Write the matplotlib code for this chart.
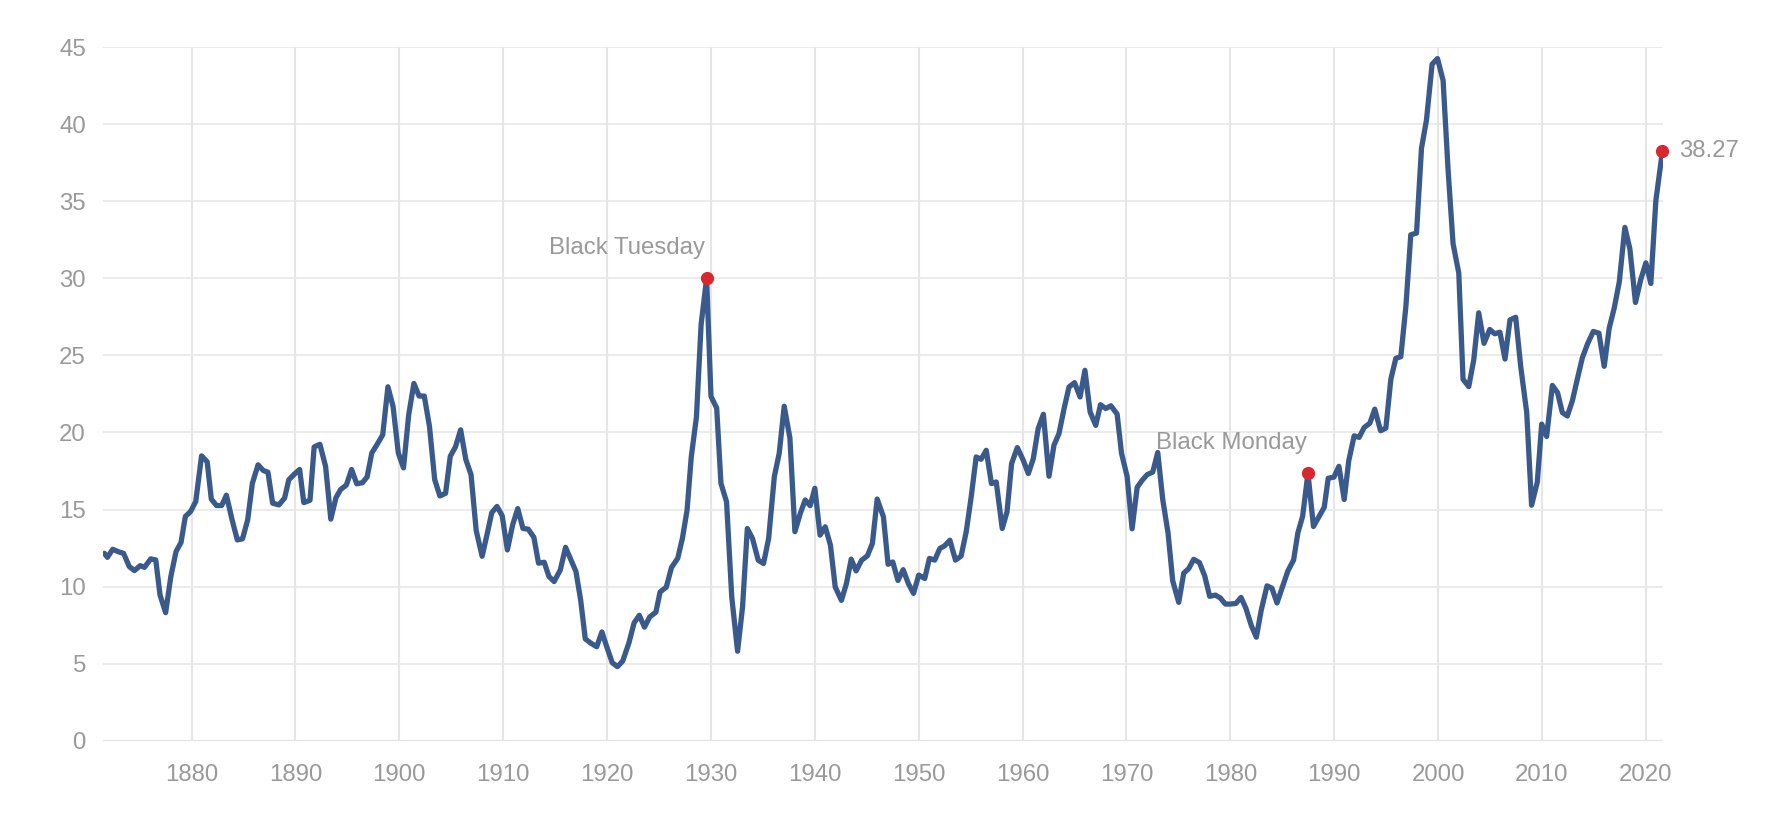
import matplotlib
matplotlib.use("Agg")
import matplotlib.pyplot as plt

years = [
    1871.6, 1871.9, 1872.4, 1873.0, 1873.45, 1874.0, 1874.5, 1875.05, 1875.46, 1876.07,
    1876.55, 1876.96, 1877.5, 1878.0, 1878.5, 1878.98, 1879.4, 1879.9, 1880.4, 1880.96,
    1881.5, 1881.9, 1882.4, 1882.9, 1883.35, 1883.9, 1884.4, 1884.9, 1885.4, 1885.85,
    1886.4, 1886.9, 1887.35, 1887.8, 1888.4, 1888.95, 1889.36, 1889.9, 1890.4,
    1890.8, 1891.4, 1891.8, 1892.35, 1892.9, 1893.4, 1893.9, 1894.35, 1894.9, 1895.4,
    1895.9, 1896.45, 1896.9, 1897.35, 1897.9, 1898.4, 1898.9, 1899.4, 1899.9, 1900.4,
    1900.9, 1901.4, 1901.9, 1902.4, 1902.9, 1903.4, 1903.9, 1904.45, 1904.9, 1905.4,
    1905.9, 1906.4, 1906.9, 1907.4, 1907.97, 1908.45, 1908.9, 1909.4, 1909.9,
    1910.4, 1910.9, 1911.4, 1911.9, 1912.4, 1912.95, 1913.4, 1913.95, 1914.4, 1914.9,
    1915.5, 1916.0, 1916.5, 1917.0, 1917.45, 1917.9, 1918.4, 1919.0, 1919.5, 1920.0,
    1920.5, 1921.0, 1921.5, 1922.1, 1922.6, 1923.1, 1923.6, 1924.1, 1924.7, 1925.1,
    1925.7, 1926.2, 1926.8, 1927.25, 1927.7, 1928.1, 1928.6, 1929.05, 1929.58,
    1930.0, 1930.55, 1930.96, 1931.5, 1932.0, 1932.56, 1933.04, 1933.5, 1934.0, 1934.55,
    1935.06, 1935.55, 1936.1, 1936.57, 1937.05, 1937.6, 1938.08, 1938.6, 1939.07, 1939.55,
    1940.0, 1940.5, 1941.0, 1941.5, 1941.96, 1942.56, 1943.04, 1943.5, 1943.97, 1944.5,
    1945.06, 1945.54, 1946.0, 1946.6, 1947.05, 1947.5, 1948.0, 1948.5,
    1949.0, 1949.5, 1950.0, 1950.58, 1951.03, 1951.54, 1952.03, 1952.5, 1953.0, 1953.54,
    1954.08, 1954.57, 1955.05, 1955.53, 1956.0, 1956.5, 1957.0, 1957.46, 1958.04, 1958.5,
    1958.94, 1959.49, 1960.06, 1960.55, 1961.03, 1961.5, 1962.0, 1962.54, 1963.02, 1963.5,
    1963.99, 1964.47, 1965.0, 1965.53, 1966.0, 1966.5, 1967.04, 1967.5, 1968.0,
    1968.5, 1969.1, 1969.52, 1970.06, 1970.54, 1971.03, 1971.5, 1971.99, 1972.53, 1973.01,
    1973.49, 1974.0, 1974.45, 1975.03, 1975.51, 1975.99, 1976.47, 1977.02, 1977.53, 1978.01,
    1978.56, 1979.04, 1979.52, 1980.0, 1980.54, 1981.03, 1981.5, 1982.02, 1982.5, 1982.98,
    1983.53, 1984.0, 1984.49, 1985.03, 1985.54, 1986.09, 1986.5, 1986.96, 1987.47,
    1988.0, 1988.5, 1989.04, 1989.42, 1989.97, 1990.45, 1990.96, 1991.4, 1991.92, 1992.4,
    1992.88, 1993.43, 1993.9, 1994.46, 1994.97, 1995.45, 1995.93, 1996.41, 1996.9, 1997.37,
    1997.92, 1998.4, 1998.88, 1999.42, 1999.94, 2000.48, 2000.96, 2001.44, 2001.99, 2002.4,
    2002.95, 2003.43, 2003.91, 2004.42, 2004.97, 2005.45, 2005.95, 2006.44, 2006.92, 2007.47,
    2007.95, 2008.53, 2009.0, 2009.55, 2009.97, 2010.45, 2011.0, 2011.5, 2011.96, 2012.44,
    2012.92, 2013.43, 2013.88, 2014.39, 2014.94, 2015.48, 2015.99, 2016.47, 2016.95, 2017.44,
    2017.98, 2018.46, 2019.0, 2019.49, 2020.0, 2020.48, 2020.96, 2021.6,
]

cape = [
    12.16, 11.9, 12.42, 12.25, 12.16, 11.3, 11.04, 11.36, 11.25, 11.8,
    11.73, 9.46, 8.31, 10.65, 12.27, 12.86, 14.55, 14.87, 15.52, 18.48,
    18.1, 15.67, 15.26, 15.26, 15.93, 14.33, 13.03, 13.1, 14.33, 16.7,
    17.9, 17.53, 17.42, 15.41, 15.3, 15.74, 16.93, 17.3, 17.6,
    15.45, 15.6, 19.06, 19.23, 17.8, 14.38, 15.77, 16.3, 16.59, 17.6,
    16.67, 16.74, 17.12, 18.67, 19.27, 19.85, 22.96, 21.67, 18.67, 17.7,
    21.14, 23.18, 22.36, 22.36, 20.39, 16.95, 15.88, 16.05, 18.45, 19.06,
    20.17, 18.24, 17.27, 13.63, 11.97, 13.41, 14.8, 15.2, 14.6,
    12.38, 13.99, 15.06, 13.77, 13.73, 13.2, 11.52, 11.58, 10.66, 10.33,
    11.09, 12.55, 11.77, 10.98, 9.15, 6.61, 6.35, 6.1, 7.06, 6.03,
    5.06, 4.81, 5.17, 6.35, 7.65, 8.14, 7.37, 8.03, 8.35, 9.65,
    9.97, 11.24, 11.84, 13.13, 14.96, 18.4, 21.0, 27.0, 30.0,
    22.34, 21.58, 16.7, 15.5, 9.33, 5.81, 8.68, 13.77, 13.12, 11.71,
    11.5, 13.12, 17.14, 18.65, 21.7, 19.63, 13.56, 14.75, 15.62, 15.25,
    16.38, 13.34, 13.88, 12.69, 9.98, 9.11, 10.2, 11.78, 11.02, 11.71,
    12.0, 12.8, 15.68, 14.53, 11.45, 11.6, 10.4, 11.1,
    10.2, 9.56, 10.75, 10.53, 11.83, 11.72, 12.47, 12.65, 13.01, 11.72,
    11.98, 13.55, 15.82, 18.41, 18.26, 18.84, 16.68, 16.79, 13.77, 14.85,
    17.98, 19.02, 18.2, 17.33, 18.3, 20.25, 21.18, 17.16, 19.17, 19.92,
    21.54, 22.95, 23.23, 22.3, 24.03, 21.33, 20.46, 21.8, 21.55,
    21.73, 21.19, 18.66, 17.15, 13.75, 16.44, 16.89, 17.26, 17.43, 18.7,
    15.65, 13.49, 10.38, 8.98, 10.87, 11.17, 11.77, 11.56, 10.7, 9.37,
    9.45, 9.26, 8.87, 8.87, 8.91, 9.3, 8.59, 7.47, 6.72, 8.5,
    10.05, 9.9, 8.94, 10.01, 11.02, 11.73, 13.49, 14.57, 17.35,
    13.9, 14.5, 15.15, 17.03, 17.1, 17.8, 15.65, 18.17, 19.78, 19.68,
    20.32, 20.6, 21.51, 20.11, 20.28, 23.45, 24.81, 24.91, 28.19, 32.82,
    32.93, 38.43, 40.26, 43.88, 44.25, 42.84, 37.03, 32.24, 30.34, 23.45,
    22.97, 24.7, 27.76, 25.78, 26.68, 26.4, 26.5, 24.76, 27.3, 27.47,
    24.29, 21.29, 15.28, 16.78, 20.54, 19.74, 23.05, 22.58, 21.29, 21.07,
    22.04, 23.54, 24.83, 25.75, 26.55, 26.44, 24.29, 26.76, 28.05, 29.76,
    33.3, 31.91, 28.43, 29.87, 31.0, 29.66, 35.02, 38.27,
]

x_ticks = [1880, 1890, 1900, 1910, 1920, 1930, 1940, 1950, 1960, 1970, 1980, 1990, 2000, 2010, 2020]
y_ticks = [0, 5, 10, 15, 20, 25, 30, 35, 40, 45]

highlight_years = [1929.58, 1987.47]
highlight_labels = ["Black Tuesday", "Black Monday"]

plt.rcParams['font.family'] = ['Liberation Sans', 'DejaVu Sans']

LINE = '#3a5a8c'
RED = '#d9272e'
GRID = '#e6e6e6'
TXT = '#999999'
FS = 17.3

fig = plt.figure(figsize=(17.9, 8.38), dpi=100)
ax = fig.add_axes([103.3 / 1790, 1 - 740.8 / 838, (1663 - 103.3) / 1790, (740.8 - 47) / 838])

for yt in y_ticks:
    ax.axhline(yt, color=('#d8d8d8' if yt == 0 else GRID), lw=1.1, zorder=1)
for xt in x_ticks:
    ax.axvline(xt, color=GRID, lw=1.5, zorder=1)

ax.plot(years, cape, color=LINE, lw=3.8, solid_joinstyle='round', solid_capstyle='round', zorder=3)

for hy, lab in zip(highlight_years, highlight_labels):
    i = years.index(hy)
    ax.plot([years[i]], [cape[i]], 'o', color=RED, ms=8.5, zorder=4, clip_on=False)
    ax.annotate(lab, (years[i], cape[i]), xytext=(-1, 22), textcoords='offset points',
                ha='right', va='center', fontsize=FS, color=TXT, zorder=5)

ax.plot([years[-1]], [cape[-1]], 'o', color=RED, ms=8.5, zorder=4, clip_on=False)
ax.annotate(f"{cape[-1]:.2f}", (years[-1], cape[-1]), xytext=(12, 0), textcoords='offset points',
            ha='left', va='center', fontsize=FS, color=TXT, zorder=5, annotation_clip=False)

ax.set_xlim(1871.5, 2021.65)
ax.set_ylim(0, 45)
ax.set_xticks(x_ticks)
ax.set_yticks(y_ticks)
ax.set_xticklabels([str(t) for t in x_ticks])
ax.set_yticklabels([str(t) for t in y_ticks])
ax.tick_params(axis='both', length=0, labelsize=FS, labelcolor=TXT)
ax.tick_params(axis='x', pad=16.5)
ax.tick_params(axis='y', pad=12.5)
for s in ax.spines.values():
    s.set_visible(False)
ax.set_facecolor('white')

fig.savefig('out.png', dpi=100, facecolor='white')
